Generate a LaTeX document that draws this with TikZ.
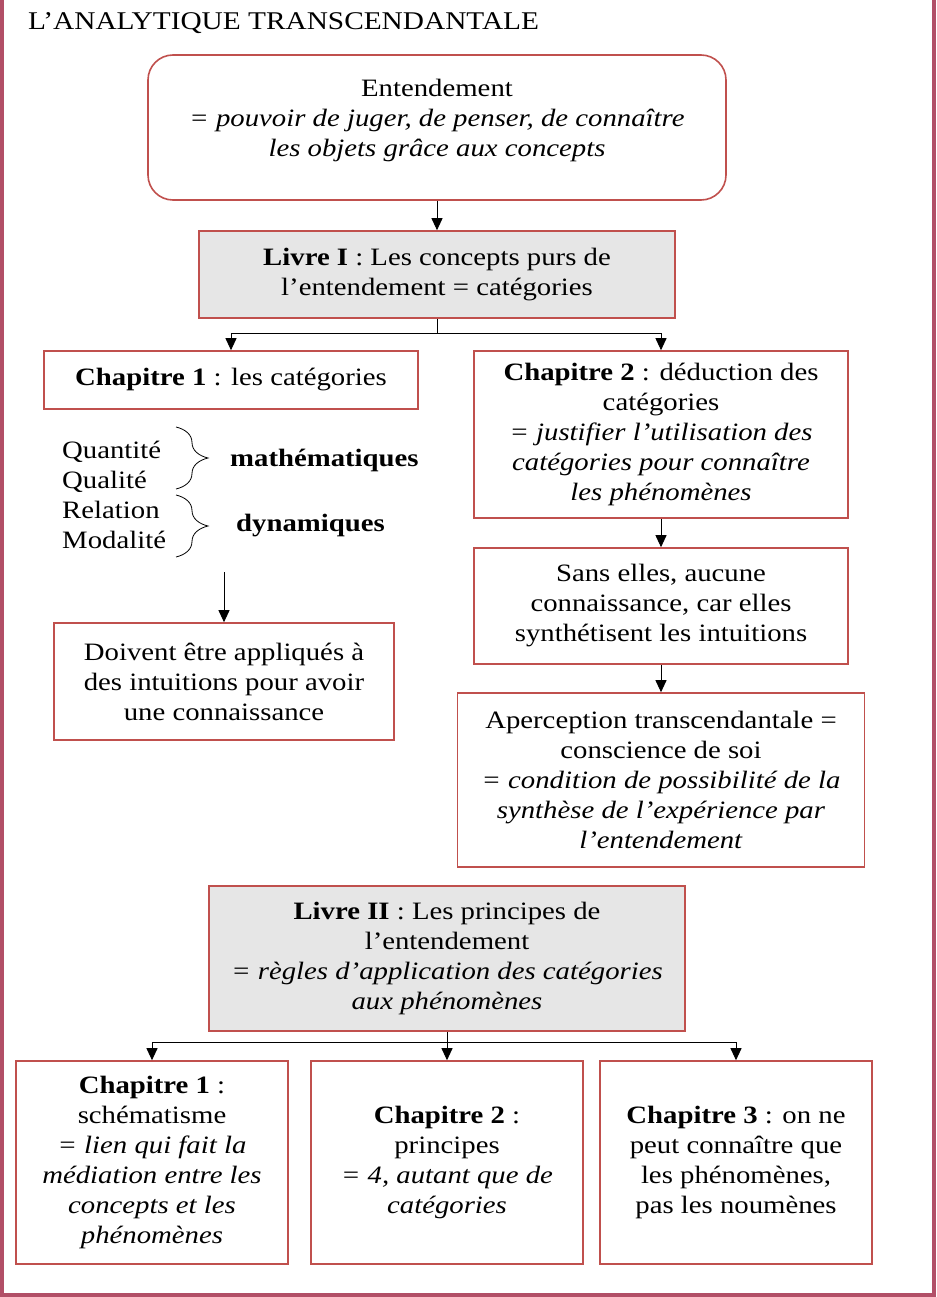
\documentclass[tikz,border=0pt]{standalone}
\usepackage{fontspec}
\setmainfont{Liberation Serif}[FakeStretch=1.15]
\usetikzlibrary{arrows.meta,positioning,calc,decorations.pathreplacing}
\definecolor{boxred}{HTML}{C0504D}
\definecolor{framerose}{HTML}{B24F67}
\definecolor{livregray}{HTML}{E6E6E6}
\newcommand{\bodyfont}{\fontsize{25}{30}\selectfont}

\begin{document}
\begin{tikzpicture}[x=1pt, y=-1pt,
  box/.style={draw=boxred, line width=1.6pt, align=center, inner sep=0pt, font=\bodyfont},
  livre/.style={box, fill=livregray},
  arr/.style={line width=0.9pt, -{Triangle[length=12pt,width=11pt]}},
  accol/.style={decorate, decoration={brace, amplitude=32pt}, line width=0.8pt}]
  \useasboundingbox (0,0) rectangle (936,1297);
  \draw[framerose, line width=4pt] (2,0) -- (2,1295) -- (934,1295) -- (934,0);
  \node[anchor=base west, inner sep=0pt, font=\fontsize{25.5}{30}\selectfont] (title) at (28,30) {L’ANALYTIQUE TRANSCENDANTALE};
  \node[box, rounded corners=25pt, minimum width=578pt, minimum height=145pt] (entend) at (437,127.5) {};
  \node[align=center, font=\bodyfont] (entendtxt) at (437,120)
    {Entendement\\ \textit{= pouvoir de juger, de penser, de connaître}\\ \textit{les objets grâce aux concepts}};
  \node[livre, minimum width=476pt, minimum height=87pt] (livre1) at (437,274.5)
    {\textbf{Livre I} : Les concepts purs de\\ l’entendement = catégories};
  \node[box, minimum width=374pt, minimum height=58pt] (chap11) at (231,380)
    {\textbf{Chapitre 1} : les catégories};
  \node[box, minimum width=374pt, minimum height=167pt] (chap12) at (661,434.5)
    {\textbf{Chapitre 2} : déduction des\\ catégories\\ \textit{= justifier l’utilisation des}\\
     \textit{catégories pour connaître}\\ \textit{les phénomènes}};
  \node[anchor=west, align=left, inner sep=0pt, font=\bodyfont] (cats) at (62,495) {Quantité\\ Qualité\\ Relation\\ Modalité};
  \draw[accol] (176,427) -- (176,489);
  \draw[accol] (176,495) -- (176,557);
  \node[anchor=west, inner sep=0pt, font=\bodyfont\bfseries] (math) at (230,460) {mathématiques};
  \node[anchor=west, inner sep=0pt, font=\bodyfont\bfseries] (dyn) at (236,526) {dynamiques};
  \coordinate (catsfoot) at (224,572);
  \node[box, minimum width=340pt, minimum height=117pt] (doivent) at (224,681.5)
    {Doivent être appliqués à\\ des intuitions pour avoir\\ une connaissance};
  \node[box, minimum width=374pt, minimum height=116pt] (sans) at (661,606)
    {Sans elles, aucune\\ connaissance, car elles\\ synthétisent les intuitions};
  \node[box, minimum width=407pt, minimum height=174pt] (aperc) at (661,780)
    {Aperception transcendantale =\\ conscience de soi\\ \textit{= condition de possibilité de la}\\
     \textit{synthèse de l’expérience par}\\ \textit{l’entendement}};
  \node[livre, minimum width=476pt, minimum height=145pt] (livre2) at (447,958.5)
    {\textbf{Livre II} : Les principes de\\ l’entendement\\ \textit{= règles d’application des catégories}\\
     \textit{aux phénomènes}};
  \node[box, minimum width=272pt, minimum height=203pt] (chap21) at (152,1162.5)
    {\textbf{Chapitre 1} :\\ schématisme\\ \textit{= lien qui fait la}\\ \textit{médiation entre les}\\
     \textit{concepts et les}\\ \textit{phénomènes}};
  \node[box, minimum width=272pt, minimum height=203pt] (chap22) at (447,1162.5)
    {\textbf{Chapitre 2} :\\ principes\\ \textit{= 4, autant que de}\\ \textit{catégories}};
  \node[box, minimum width=272pt, minimum height=203pt] (chap23) at (736,1162.5)
    {\textbf{Chapitre 3} : on ne\\ peut connaître que\\ les phénomènes,\\ pas les noumènes};
  \draw[arr] (entend) -- (livre1);
  \draw[line width=0.9pt] (livre1.south) -- ++(0,15) coordinate (fork1);
  \draw[arr] (fork1) -| (chap11);
  \draw[arr] (fork1) -| (chap12);
  \draw[arr] (chap12) -- (sans);
  \draw[arr] (sans) -- (aperc);
  \draw[arr] (catsfoot) -- (doivent);
  \draw[line width=0.9pt] (livre2.south) -- ++(0,11) coordinate (fork2);
  \draw[arr] (fork2) -| (chap21);
  \draw[arr] (fork2) -- (chap22);
  \draw[arr] (fork2) -| (chap23);
\end{tikzpicture}
\end{document}
